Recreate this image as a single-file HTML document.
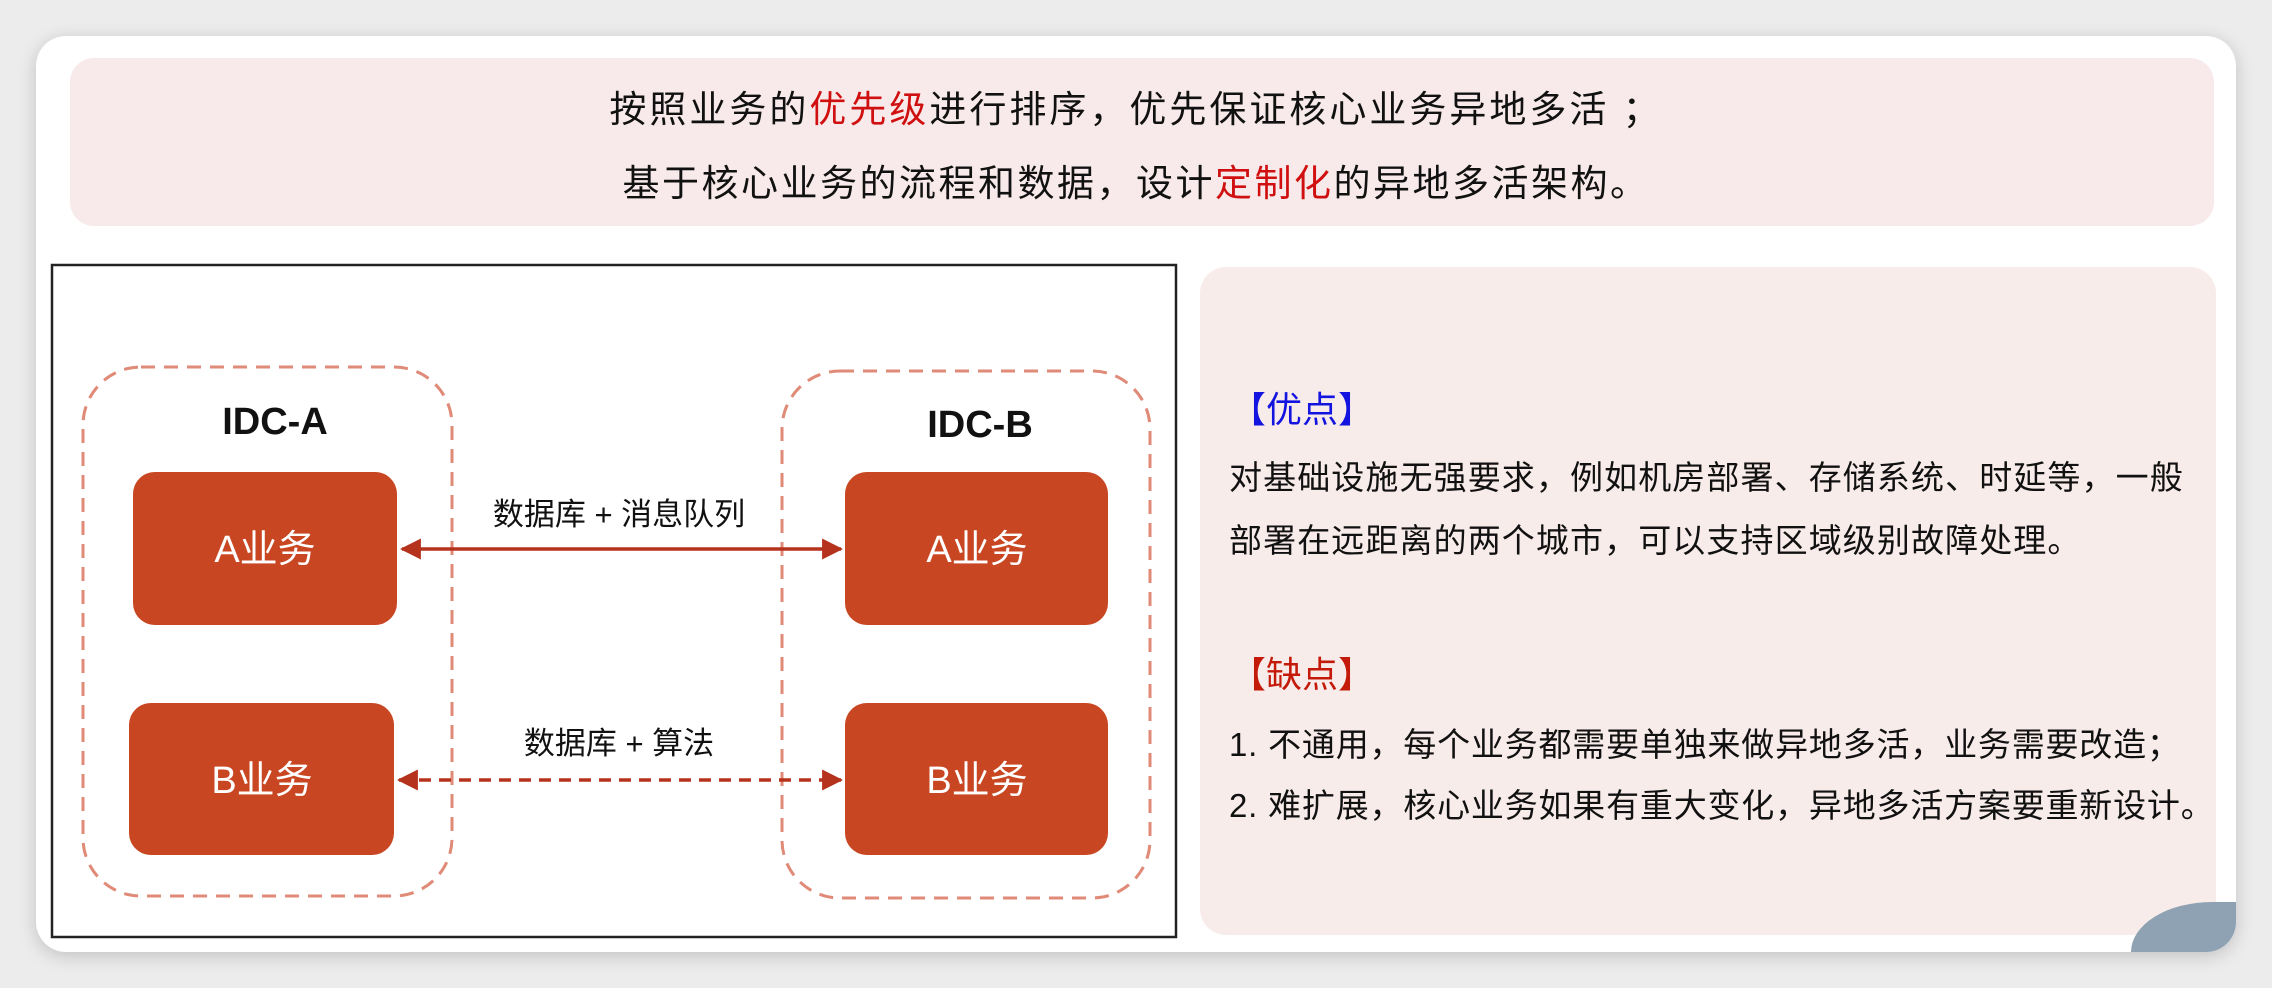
<!DOCTYPE html>
<html><head><meta charset="utf-8"><style>
*{margin:0;padding:0;box-sizing:border-box}
body{width:2272px;height:988px;background:#ececec;position:relative;overflow:hidden;font-family:"Liberation Sans","Noto Sans CJK SC",sans-serif}
.card{position:absolute;left:36px;top:36px;width:2200px;height:916px;background:#fff;border-radius:30px;box-shadow:0 4px 18px rgba(0,0,0,.18);overflow:hidden}
.banner{position:absolute;left:34px;top:22px;width:2144px;height:168px;background:#f8eaea;border-radius:24px}
.t{position:absolute;white-space:nowrap;color:#111}
.red{color:#d01010}
.rp{position:absolute;left:1164px;top:231px;width:1016px;height:668px;background:#f8ecea;border-radius:26px}
.circ{position:absolute;left:2095px;top:866px;width:105px;height:50px;background:#8fa2b3;border-top-left-radius:130px 80px}
</style></head><body>
<div class="card">
  <div class="banner"></div>
  <div class="t" style="left:0;width:2200px;text-align:center;top:50px;font-size:37px;line-height:48px;letter-spacing:3px">按照业务的<span class="red">优先级</span>进行排序，优先保证核心业务异地多活 ；</div>
  <div class="t" style="left:0;width:2200px;text-align:center;top:124px;font-size:37px;line-height:48px;letter-spacing:2.5px">基于核心业务的流程和数据，设计<span class="red">定制化</span>的异地多活架构。</div>
  <div class="rp"></div>
  <div class="t" style="left:1194px;top:352px;font-size:36px;line-height:44px;color:#1414e0">【优点】</div>
  <div class="t" style="left:1193px;top:420px;font-size:33px;line-height:44px;letter-spacing:1.1px">对基础设施无强要求，例如机房部署、存储系统、时延等，一般</div>
  <div class="t" style="left:1193px;top:483px;font-size:33px;line-height:44px;letter-spacing:1.1px">部署在远距离的两个城市，可以支持区域级别故障处理。</div>
  <div class="t" style="left:1194px;top:617px;font-size:36px;line-height:44px;color:#c41a0a">【缺点】</div>
  <div class="t" style="left:1193px;top:687px;font-size:33px;line-height:44px;letter-spacing:0.8px">1. 不通用，每个业务都需要单独来做异地多活，业务需要改造；</div>
  <div class="t" style="left:1193px;top:748px;font-size:33px;line-height:44px;letter-spacing:0.8px">2. 难扩展，核心业务如果有重大变化，异地多活方案要重新设计。</div>
  <div class="circ"></div>
</div>
<svg style="position:absolute;left:0;top:0" width="2272" height="988" xmlns="http://www.w3.org/2000/svg">
  <defs>
    <marker id="ah" viewBox="0 0 10 10" refX="9" refY="5" markerWidth="6" markerHeight="6" orient="auto-start-reverse">
      <path d="M0,0 L10,5 L0,10 z" fill="#b5321c"/>
    </marker>
  </defs>
  <rect x="52" y="265" width="1124" height="672" fill="#fff" stroke="#222" stroke-width="2.5"/>
  <rect x="83" y="367" width="369" height="529" rx="58" fill="none" stroke="#e08a78" stroke-width="3" stroke-dasharray="14 9"/>
  <rect x="782" y="371" width="368" height="527" rx="58" fill="none" stroke="#e08a78" stroke-width="3" stroke-dasharray="14 9"/>
  <text x="275" y="434" text-anchor="middle" font-family="Liberation Sans, sans-serif" font-weight="bold" font-size="38" fill="#111">IDC-A</text>
  <text x="980" y="437" text-anchor="middle" font-family="Liberation Sans, sans-serif" font-weight="bold" font-size="38" fill="#111">IDC-B</text>
  <g fill="#c84622">
    <rect x="133" y="472" width="264" height="153" rx="22"/>
    <rect x="129" y="703" width="265" height="152" rx="22"/>
    <rect x="845" y="472" width="263" height="153" rx="22"/>
    <rect x="845" y="703" width="263" height="152" rx="22"/>
  </g>
  <g font-family="Liberation Sans, Noto Sans CJK SC, sans-serif" font-size="38" fill="#fff" text-anchor="middle">
    <text x="265" y="562">A业务</text>
    <text x="262" y="793">B业务</text>
    <text x="977" y="562">A业务</text>
    <text x="977" y="793">B业务</text>
  </g>
  <line x1="402" y1="549" x2="841" y2="549" stroke="#b5321c" stroke-width="3.5" marker-start="url(#ah)" marker-end="url(#ah)"/>
  <line x1="399" y1="780" x2="841" y2="780" stroke="#b5321c" stroke-width="3.5" stroke-dasharray="12 8" marker-start="url(#ah)" marker-end="url(#ah)"/>
  <g font-family="Liberation Sans, Noto Sans CJK SC, sans-serif" font-size="31" fill="#111" text-anchor="middle">
    <text x="619" y="525">数据库 + 消息队列</text>
    <text x="619" y="754">数据库 + 算法</text>
  </g>
</svg>
</body></html>
